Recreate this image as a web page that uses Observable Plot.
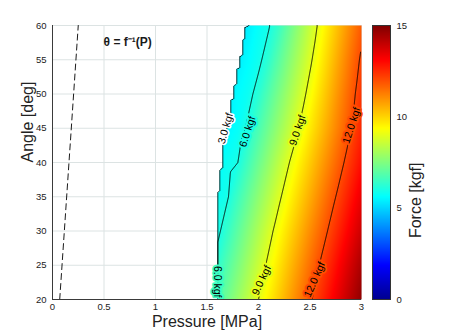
<!DOCTYPE html>
<html><head><meta charset="utf-8">
<script src="https://cdn.jsdelivr.net/npm/d3@7"></script>
<script src="https://cdn.jsdelivr.net/npm/@observablehq/plot@0.6"></script>
<style>
body{margin:0;background:#fff;}
#wrap{position:relative;width:449px;height:336px;overflow:hidden;}
#wrap svg{position:absolute;top:0;}
</style></head><body><div id="wrap"></div>
<script>
// ---- data ----
const pressures = [1.5,1.6,1.7,1.8,1.9,2.0,2.1,2.2,2.3,2.4,2.5,2.6,2.7,2.8,2.9,3.0];
const angles = [20,25,30,35,40,45,50,55,60];
const force20 = [6.17,6.74,7.30,7.87,8.43,9.00,9.58,10.15,10.73,11.31,11.88,12.46,13.04,13.62,14.19,14.77];
const force25 = [5.71,6.29,6.87,7.44,8.02,8.60,9.17,9.75,10.33,10.90,11.48,12.06,12.63,13.21,13.79,14.37];
const force30 = [5.30,5.82,6.41,7.00,7.59,8.18,8.76,9.34,9.91,10.47,11.04,11.60,12.17,12.74,13.30,13.87];
const force35 = [5.20,5.75,5.95,6.53,7.12,7.71,8.29,8.88,9.45,10.02,10.58,11.15,11.72,12.28,12.85,13.41];
const force40 = [5.10,5.60,5.80,6.00,6.60,7.20,7.80,8.40,9.00,9.57,10.13,10.70,11.26,11.83,12.40,12.96];
const force45 = [4.70,5.00,5.50,5.70,6.12,6.71,7.29,7.88,8.47,9.06,9.65,10.24,10.82,11.41,12.00,12.59];
const force50 = [4.50,4.80,5.40,5.60,5.80,6.24,6.84,7.44,8.04,8.64,9.25,9.88,10.50,11.13,11.75,12.38];
const force55 = [4.10,4.40,4.70,5.40,5.60,5.85,6.32,6.96,7.60,8.23,8.87,9.52,10.17,10.83,11.48,12.13];
const force60 = [3.40,3.80,4.20,4.60,5.40,5.70,5.95,6.48,7.16,7.84,8.52,9.20,9.85,10.50,11.15,11.80];
const forceRows = [force20,force25,force30,force35,force40,force45,force50,force55,force60];

// left boundary of the computed region (angle -> minimum pressure)
const edgeAngle =    [20,   35.6, 35.9, 38.8, 39.3, 42.5, 47.2, 49.1, 49.4, 51.2, 51.5, 53.6, 53.9, 55.5, 55.8, 57.8, 58.2, 59.7, 60];
const edgePressure = [1.602,1.602,1.621,1.621,1.650,1.650,1.728,1.728,1.757,1.757,1.786,1.786,1.816,1.816,1.845,1.845,1.864,1.864,1.903];

const contourLevels = [3, 6, 9, 12];
const labelText =     ["3.0 kgf","6.0 kgf","9.0 kgf","12.0 kgf","9.0 kgf","12.0 kgf","6.0 kgf"];
const labelPressure = [1.680, 1.893, 2.379, 2.903, 2.029, 2.544, 1.602];
const labelAngle =    [44.96, 44.5, 44.7, 45.4, 22.8, 22.9, 22.6];
const labelRotate =   [-74, -72, -72, -72, -65, -66, 90];
const labelHalo =     ["white", null, null, null, null, null, null];
const labelBg =       [5.2, 6, 9, 12, 9, 12, 6.5];

const inversePressure = [0.07, 0.25];
const inverseAngle = [20, 60];
const noteText = ["\u03B8 = f\u207B\u00B9(P)"];
const notePressure = [0.73];
const noteAngle = [57.6];

const xTicks = [0, 0.5, 1, 1.5, 2, 2.5, 3];
const yTicks = [20, 25, 30, 35, 40, 45, 50, 55, 60];
const cbTicks = [0, 5, 10, 15];

// ---- build ----
const points = angles.flatMap((a, j) => pressures.map((p, i) => ({p, a, f: forceRows[j][i]})));
const labels = labelText.map((t, i) => ({t, p: labelPressure[i], a: labelAngle[i], r: labelRotate[i], bg: labelBg[i], halo: labelHalo[i]}));
const coloredLabels = labels.filter(d => !d.halo);
const plainLabels = labels.filter(d => d.halo);
const inverse = inversePressure.map((p, i) => ({p, a: inverseAngle[i]}));

const colorOpts = {type: "linear", domain: [0, 1.875, 5.625, 9.375, 13.125, 15],
  range: ["#00008f", "#0000ff", "#00ffff", "#ffff00", "#ff0000", "#800000"], clamp: true};

const pMax = d3.max(pressures), aMin = d3.min(angles), aMax = d3.max(angles);
const edgeScale = d3.scaleLinear().domain(edgeAngle).range(edgePressure).clamp(true);
function fillOutside(out, w, h) {
  for (let i = 0; i < w; ++i) {
    let last = NaN;
    for (let j = 0; j < h; ++j) { const k = j * w + i; if (!isNaN(out[k])) last = out[k]; else if (!isNaN(last)) out[k] = last; }
    last = NaN;
    for (let j = h - 1; j >= 0; --j) { const k = j * w + i; if (!isNaN(out[k])) last = out[k]; else if (!isNaN(last)) out[k] = last; }
  }
  for (let j = 0; j < h; ++j) {
    let last = NaN;
    for (let i = 0; i < w; ++i) { const k = j * w + i; if (!isNaN(out[k])) last = out[k]; else if (!isNaN(last)) out[k] = last; }
    last = NaN;
    for (let i = w - 1; i >= 0; --i) { const k = j * w + i; if (!isNaN(out[k])) last = out[k]; else if (!isNaN(last)) out[k] = last; }
  }
}
function maskedInterpolate(b) {
  const base = Plot.interpolatorBarycentric();
  return (index, w, h, X, Y, V) => {
    const out = base(index, w, h, X, Y, V);
    // drop the library's extrapolation outside the sampled area, extend the border values instead
    for (let j = 0; j < h; ++j) {
      const a = b.y1 + (j + 0.5) / h * (b.y2 - b.y1);
      for (let i = 0; i < w; ++i) {
        const p = b.x1 + (i + 0.5) / w * (b.x2 - b.x1);
        if (p > pMax || a > aMax || a < aMin) out[j * w + i] = NaN;
      }
    }
    fillOutside(out, w, h);
    for (let j = 0; j < h; ++j) {
      const a = b.y1 + (j + 0.5) / h * (b.y2 - b.y1);
      const e = edgeScale(a);
      for (let i = 0; i < w; ++i) {
        const p = b.x1 + (i + 0.5) / w * (b.x2 - b.x1);
        if (p < e) out[j * w + i] = NaN;
      }
    }
    return out;
  };
}
const rasterBounds = {x1: 0, x2: 3, y1: 20, y2: 60};
const contourBounds = {x1: 0, x2: 3.2, y1: 17, y2: 63};

const font = "'Liberation Sans', Arial, Helvetica, sans-serif";

const main = Plot.plot({
  width: 449, height: 336,
  marginLeft: 52, marginRight: 88, marginTop: 25, marginBottom: 37,
  style: {fontFamily: font, background: "transparent"},
  x: {domain: [0, 3]},
  y: {domain: [20, 60]},
  color: colorOpts,
  marks: [
    Plot.gridX(xTicks, {stroke: "#dce3e3", strokeOpacity: 1}),
    Plot.gridY(yTicks, {stroke: "#dce3e3", strokeOpacity: 1}),
    Plot.raster(points, {x: "p", y: "a", fill: "f", pixelSize: 1, ...rasterBounds,
      interpolate: maskedInterpolate(rasterBounds)}),
    Plot.contour(points, {x: "p", y: "a", value: "f", thresholds: contourLevels, fill: "none",
      stroke: "black", strokeWidth: 0.9, pixelSize: 1, clip: true, ...contourBounds,
      interpolate: maskedInterpolate(contourBounds)}),
    Plot.line(inverse, {x: "p", y: "a", stroke: "black", strokeWidth: 0.9, strokeDasharray: "6,4"}),
    Plot.text(coloredLabels, {x: "p", y: "a", text: "t", rotate: "r", stroke: "bg", fill: "black",
      strokeWidth: 4, paintOrder: "stroke", fontSize: 10.5}),
    Plot.text(plainLabels, {x: "p", y: "a", text: "t", rotate: "r", stroke: "white", fill: "black",
      strokeWidth: 3, paintOrder: "stroke", fontSize: 10.5}),
    Plot.text(noteText, {x: notePressure, y: noteAngle, text: d => d, fontSize: 12, fontWeight: "bold", fill: "#1a1a1a"}),
    Plot.ruleX([0], {stroke: "#3a3a3a", strokeWidth: 1}),
    Plot.ruleY([20], {stroke: "#3a3a3a", strokeWidth: 1}),
    Plot.axisX(xTicks, {tickSize: 0, tickPadding: 4, fontSize: 9.5, label: null, tickFormat: d => String(d), color: "#222"}),
    Plot.axisY(yTicks, {tickSize: 0, tickPadding: 6, fontSize: 9.5, label: null, tickFormat: d => String(d), color: "#222"}),
    Plot.text(["Pressure [MPa]"], {frameAnchor: "bottom", dy: 27, fontSize: 16, fill: "#222"}),
    Plot.text(["Angle [deg]"], {frameAnchor: "left", dx: -25, rotate: -90, fontSize: 16, fill: "#222"})
  ]
});

const bar = Plot.plot({
  width: 77, height: 336,
  marginLeft: 0, marginRight: 59, marginTop: 25, marginBottom: 37,
  style: {fontFamily: font, background: "transparent"},
  x: {domain: [0, 1], axis: null},
  y: {domain: [0, 15], axis: null},
  color: colorOpts,
  marks: [
    Plot.raster({fill: (x, y) => y, x1: 0, x2: 1, y1: 0, y2: 15, pixelSize: 1}),
    Plot.frame({stroke: "#333", strokeWidth: 1}),
    Plot.axisY(cbTicks, {anchor: "right", tickSize: 0, tickPadding: 6, fontSize: 9.5, label: null, color: "#222"}),
    Plot.text(["Force [kgf]"], {frameAnchor: "right", dx: 25, rotate: -90, fontSize: 16, fill: "#222"})
  ]
});
main.style.left = "0px";
bar.style.left = "372px";
const wrap = document.getElementById("wrap");
wrap.appendChild(main);
wrap.appendChild(bar);
</script></body></html>
